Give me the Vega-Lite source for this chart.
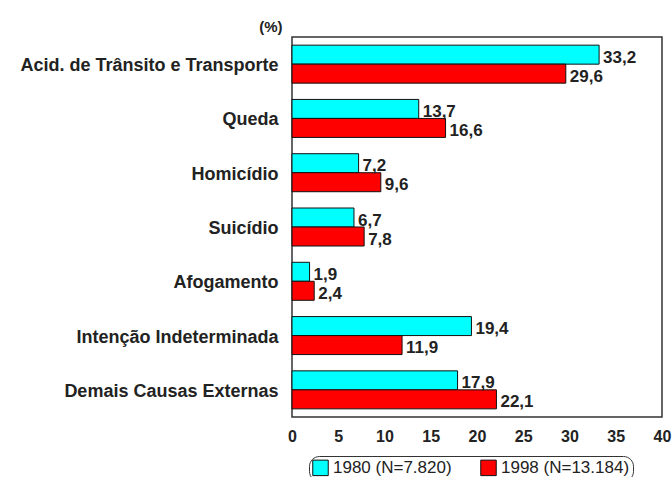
{
  "$schema": "https://vega.github.io/schema/vega-lite/v6.json",
  "width": 370,
  "height": 380,
  "autosize": "none",
  "padding": {"left": 292, "top": 37, "right": 10, "bottom": 60},
  "background": "white",
  "config": {
    "font": "Liberation Sans",
    "view": {"stroke": "#333", "strokeWidth": 1.5},
    "locale": {"number": {"decimal": ",", "thousands": ".", "grouping": [3], "currency": ["R$", ""]}}
  },
  "data": {
    "values": [
      {"causa": "Acid. de Trânsito e Transporte", "serie": "1980 (N=7.820)", "pct": 33.2},
      {"causa": "Acid. de Trânsito e Transporte", "serie": "1998 (N=13.184)", "pct": 29.6},
      {"causa": "Queda", "serie": "1980 (N=7.820)", "pct": 13.7},
      {"causa": "Queda", "serie": "1998 (N=13.184)", "pct": 16.6},
      {"causa": "Homicídio", "serie": "1980 (N=7.820)", "pct": 7.2},
      {"causa": "Homicídio", "serie": "1998 (N=13.184)", "pct": 9.6},
      {"causa": "Suicídio", "serie": "1980 (N=7.820)", "pct": 6.7},
      {"causa": "Suicídio", "serie": "1998 (N=13.184)", "pct": 7.8},
      {"causa": "Afogamento", "serie": "1980 (N=7.820)", "pct": 1.9},
      {"causa": "Afogamento", "serie": "1998 (N=13.184)", "pct": 2.4},
      {"causa": "Intenção Indeterminada", "serie": "1980 (N=7.820)", "pct": 19.4},
      {"causa": "Intenção Indeterminada", "serie": "1998 (N=13.184)", "pct": 11.9},
      {"causa": "Demais Causas Externas", "serie": "1980 (N=7.820)", "pct": 17.9},
      {"causa": "Demais Causas Externas", "serie": "1998 (N=13.184)", "pct": 22.1}
    ]
  },
  "encoding": {
    "y": {
      "field": "causa",
      "type": "nominal",
      "sort": null,
      "scale": {"paddingInner": 0.3, "paddingOuter": 0.15},
      "axis": {
        "title": "(%)",
        "titleAngle": 0,
        "titleAlign": "right",
        "titleBaseline": "alphabetic",
        "titleX": -10,
        "titleY": -6,
        "titleFontSize": 15,
        "titleFontWeight": "bold",
        "titleColor": "#222",
        "ticks": false,
        "domain": false,
        "labelPadding": 14,
        "labelFontSize": 18,
        "labelFontWeight": "bold",
        "labelColor": "#222",
        "labelLimit": 320,
        "labelBaseline": "middle",
        "labelOffset": 2
      }
    },
    "x": {
      "field": "pct",
      "type": "quantitative",
      "scale": {"domain": [0, 40], "nice": false},
      "axis": {
        "title": null,
        "values": [0, 5, 10, 15, 20, 25, 30, 35, 40],
        "format": "d",
        "grid": false,
        "ticks": false,
        "domain": false,
        "labelPadding": 11,
        "labelFontSize": 16,
        "labelFontWeight": "bold",
        "labelColor": "#222",
        "labelFlush": false
      }
    },
    "yOffset": {"field": "serie", "type": "nominal", "sort": null}
  },
  "layer": [
    {
      "mark": {"type": "bar", "stroke": "#111", "strokeWidth": 1},
      "encoding": {
        "fill": {
          "field": "serie",
          "type": "nominal",
          "sort": null,
          "scale": {"range": ["#00FFFF", "#FF0000"]},
          "legend": {
            "title": null,
            "orient": "none",
            "legendX": 17,
            "legendY": 419,
            "direction": "horizontal",
            "labelFontSize": 17,
            "labelColor": "#222",
            "symbolType": "square",
            "symbolSize": 240,
            "symbolStrokeColor": "#111",
            "symbolStrokeWidth": 1,
            "symbolOpacity": 1,
            "padding": 3,
            "strokeColor": "#333",
            "cornerRadius": 10,
            "fillColor": "white",
            "columnPadding": 26,
            "labelOffset": 4
          }
        }
      }
    },
    {
      "mark": {"type": "text", "align": "left", "baseline": "middle", "dx": 4, "dy": 3, "fontSize": 17, "fontWeight": "bold", "color": "#222"},
      "encoding": {
        "text": {"field": "pct", "type": "quantitative", "format": ".1f"}
      }
    }
  ]
}
